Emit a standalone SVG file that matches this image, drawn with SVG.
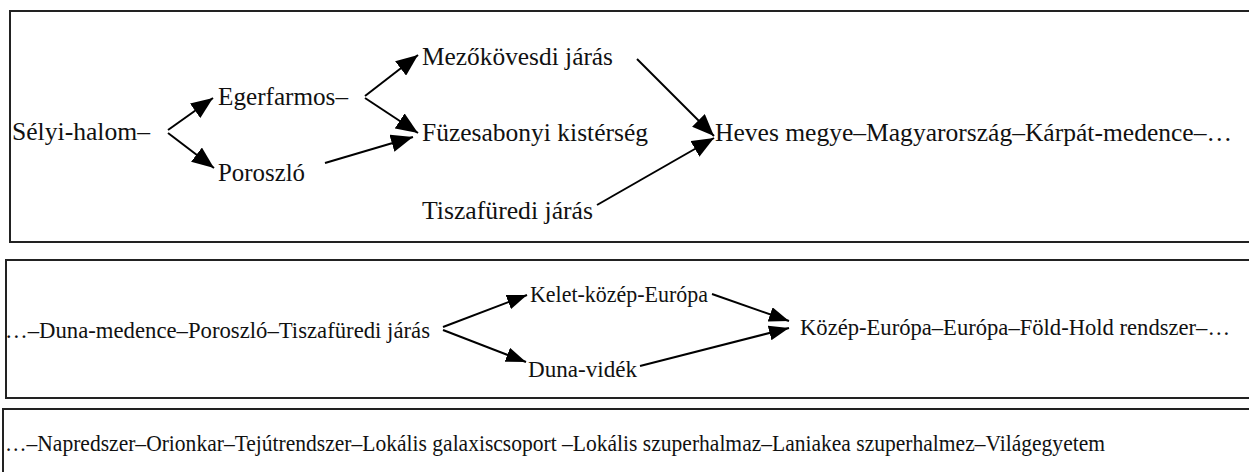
<svg xmlns="http://www.w3.org/2000/svg" width="1249" height="472" viewBox="0 0 1249 472">
<style>
text{font-family:'Liberation Serif','DejaVu Serif',serif;fill:#111}
.t1{font-size:26px}
.t2{font-size:23px}
.box{fill:#fff;stroke:#222;stroke-width:2}
.c{stroke:#000;stroke-width:2;fill:none}
.c1{marker-end:url(#ah1)}
.c2{marker-end:url(#ah2)}
</style>
<defs>
<marker id="ah1" viewBox="0 0 22 18" refX="22" refY="9" markerWidth="22" markerHeight="18" markerUnits="userSpaceOnUse" orient="auto"><path d="M0,0 L22,9 L0,18 z" fill="#000"/></marker>
<marker id="ah2" viewBox="0 0 20 15" refX="20" refY="7.5" markerWidth="20" markerHeight="15" markerUnits="userSpaceOnUse" orient="auto"><path d="M0,0 L20,7.5 L0,15 z" fill="#000"/></marker>
</defs>
<rect width="1249" height="472" fill="#fff"/>
<rect class="box" x="10" y="11" width="1260" height="231"/>
<rect class="box" x="6" y="260" width="1260" height="138"/>
<rect class="box" x="3" y="409" width="1260" height="80"/>
<g id="connectors">
<path class="c c1" d="M168,130 L213,98"/>
<path class="c c1" d="M168,133 L214,168"/>
<path class="c c1" d="M365,96 L418,55"/>
<path class="c c1" d="M365,98 L418,133"/>
<path class="c c1" d="M325,163 L413,137"/>
<path class="c c1" d="M637,59 L714,136"/>
<path class="c c1" d="M597,205 L714,138"/>
<path class="c c2" d="M443,327 L527,295"/>
<path class="c c2" d="M443,330 L526,362"/>
<path class="c c2" d="M712,294 L789,321"/>
<path class="c c2" d="M640,366 L789,328"/>
</g>
<g id="n-selyi"><text class="t1" x="12" y="140" textLength="138" lengthAdjust="spacingAndGlyphs">Sélyi-halom–</text></g>
<g id="n-egerfarmos"><text class="t1" x="218" y="105" textLength="130" lengthAdjust="spacingAndGlyphs">Egerfarmos–</text></g>
<g id="n-poroszlo"><text class="t1" x="218" y="181" textLength="87" lengthAdjust="spacingAndGlyphs">Poroszló</text></g>
<g id="n-mezokovesd"><text class="t1" x="422" y="65" textLength="191" lengthAdjust="spacingAndGlyphs">Mezőkövesdi járás</text></g>
<g id="n-fuzesabony"><text class="t1" x="422" y="141" textLength="226" lengthAdjust="spacingAndGlyphs">Füzesabonyi kistérség</text></g>
<g id="n-tiszafured"><text class="t1" x="422" y="219" textLength="171" lengthAdjust="spacingAndGlyphs">Tiszafüredi járás</text></g>
<g id="n-heves"><text class="t1" x="715" y="141" textLength="517" lengthAdjust="spacingAndGlyphs">Heves megye–Magyarország–Kárpát-medence–…</text></g>
<g id="n-dunamedence"><text class="t2" x="5" y="338" textLength="425" lengthAdjust="spacingAndGlyphs">…–Duna-medence–Poroszló–Tiszafüredi járás</text></g>
<g id="n-keletkozep"><text class="t2" x="530" y="302" textLength="178" lengthAdjust="spacingAndGlyphs">Kelet-közép-Európa</text></g>
<g id="n-dunavidek"><text class="t2" x="528" y="377" textLength="109" lengthAdjust="spacingAndGlyphs">Duna-vidék</text></g>
<g id="n-kozep"><text class="t2" x="800" y="335" textLength="430" lengthAdjust="spacingAndGlyphs">Közép-Európa–Európa–Föld-Hold rendszer–…</text></g>
<g id="n-napredszer"><text class="t2" x="5" y="451" textLength="1100" lengthAdjust="spacingAndGlyphs">…–Napredszer–Orionkar–Tejútrendszer–Lokális galaxiscsoport –Lokális szuperhalmaz–Laniakea szuperhalmez–Világegyetem</text></g>
</svg>
